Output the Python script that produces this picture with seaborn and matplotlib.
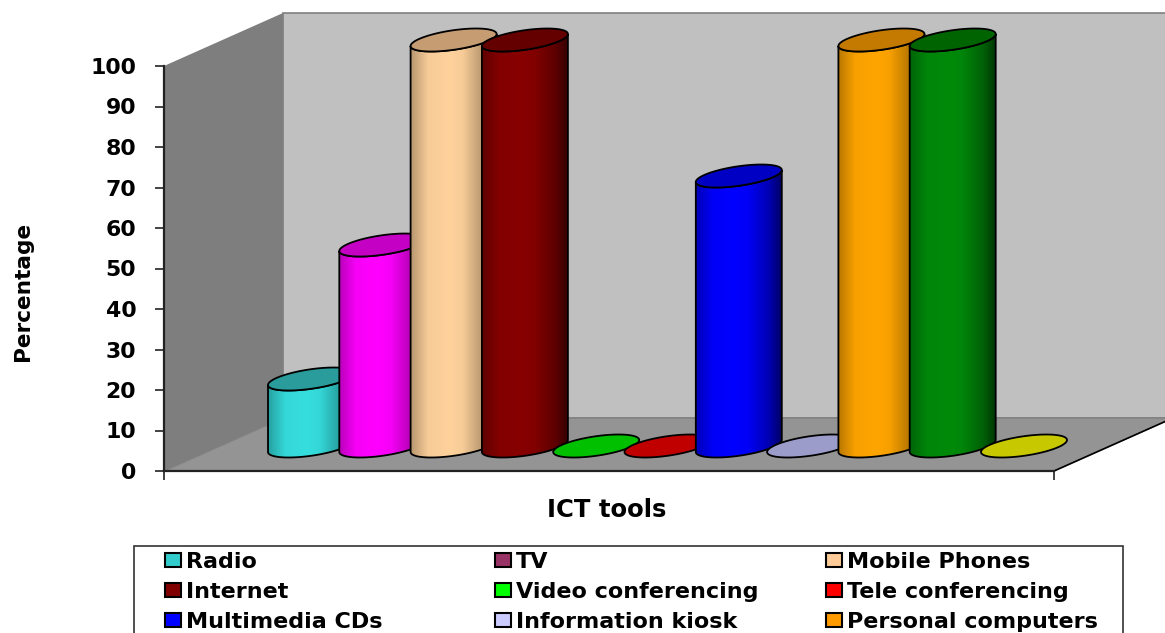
import numpy as np
import matplotlib
matplotlib.use("Agg")
import matplotlib.pyplot as plt
from matplotlib.patches import Patch, Polygon, Rectangle
from matplotlib.colors import to_rgb
import pandas as pd
import seaborn as sns

# Survey results: share of respondents using each tool
tools = ["Radio", "TV", "Mobile Phones", "Internet", "Video conferencing",
         "Tele conferencing", "Multimedia CDs", "Information kiosk",
         "Personal computers", "Other tools A", "Other tools B"]
percent = [16.5, 49.5, 100, 100, 0, 0, 66.5, 0, 100, 100, 0]
body_colors = ["#36DEDE", "#FF00FF", "#FFD29C", "#870000", "#00C400", "#C80000",
               "#0000FF", "#9C9CCB", "#FFA500", "#008A0A", "#C8C800"]
top_colors = ["#2A9C9C", "#C400C4", "#C69C72", "#650000", "#00C000", "#C00000",
              "#0000C4", "#9C9CCB", "#C47A00", "#006400", "#C8C800"]
legend_colors = ["#33CCCC", "#993366", "#FFCC99", "#800000", "#00FF00", "#FF0000",
                 "#0000FF", "#CCCCFF", "#FF9900"]
yticks = list(range(0, 101, 10))

W, H = 1165, 633
TEXT = dict(fontweight="bold", color="black")

sns.set_theme(style="white")
plt.rcParams["font.family"] = ["DejaVu Sans"]

fig = plt.figure(figsize=(W / 100, H / 100), dpi=100, facecolor="white")


def px_axes(left, top, right, bottom):
    return fig.add_axes([left / W, 1 - bottom / H, (right - left) / W, (bottom - top) / H])


# Front frame of the chart box, carrying the value axis
frame = px_axes(164, 66, 1054, 471)
frame.set_xlim(0, 1)
frame.set_ylim(0, 100)
frame.patch.set_visible(False)
depth_x, depth_y = 119 / 890, 53 / 405 * 100

left_wall = [(0, 0), (depth_x, depth_y), (depth_x, 100 + depth_y), (0, 100)]
back_wall = [(depth_x, depth_y), (1 + depth_x, depth_y), (1 + depth_x, 100 + depth_y), (depth_x, 100 + depth_y)]
floor = [(0, 0), (1, 0), (1 + depth_x, depth_y), (depth_x, depth_y)]
frame.add_patch(Polygon(left_wall, fc="#7E7E7E", ec="none", clip_on=False, zorder=1))
frame.add_patch(Polygon(back_wall, fc="#C0C0C0", ec="#808080", lw=1.2, clip_on=False, zorder=1))
frame.add_patch(Polygon(floor, fc="#949494", ec="#808080", lw=1, clip_on=False, zorder=1.5))
frame.plot([1, 1 + depth_x], [0, depth_y], color="black", lw=1.2, clip_on=False, zorder=2)

for side in ("top", "right"):
    frame.spines[side].set_visible(False)
for side in ("left", "bottom"):
    frame.spines[side].set_color("#222222")
    frame.spines[side].set_linewidth(1.6)
    frame.spines[side].set_zorder(3)
frame.set_yticks(yticks)
frame.set_xticks([0, 1], labels=["", ""])
frame.tick_params(axis="y", left=True, length=6.5, width=1.2, color="#222222", pad=13.5)
frame.tick_params(axis="x", bottom=True, length=6.5, width=1.2, color="#222222")
for label in frame.get_yticklabels():
    label.set_fontsize(15.8)
    label.set_fontweight("bold")
    label.set_color("black")
frame.set_ylabel("Percentage", fontsize=15.6, va="center", ha="center", **TEXT)
frame.yaxis.set_label_coords((23 - 164) / 890, (471 - 291) / 405)
frame.set_xlabel("ICT tools", fontsize=17.5, va="center", ha="center", **TEXT)
frame.xaxis.set_label_coords((607 - 164) / 890, -(510 - 471) / 405)

# Cylinders sit on the floor, in axes spanning the whole canvas
bars_ax = fig.add_axes([0, 0, 1, 1])
bars_ax.patch.set_visible(False)
data = pd.DataFrame({"tool": tools, "percent": percent})
sns.barplot(data=data, x="tool", y="percent", hue="tool", hue_order=tools,
            palette=body_colors, saturation=1, dodge=False, width=86 / 71.3,
            legend=False, ax=bars_ax)

spacing = 71.3
first_center, zero_y, unit = 311.0, 446.0, 4.06
x_limits = (-first_center / spacing, (W - first_center) / spacing)
y_limits = ((zero_y - H) / unit, zero_y / unit)
skew, minor = 6 / unit, 9.8 / unit
angles = np.linspace(0, 2 * np.pi, 200)


def ellipse(cx, half, level, t):
    return np.column_stack([cx + half * np.cos(t), level + skew * np.cos(t) + minor * np.sin(t)])


shade_pos = [0, 0.2, 0.45, 0.6, 0.85, 1]
shade_val = [0.72, 0.97, 1.0, 0.97, 0.7, 0.4]
shade = np.interp(np.linspace(0, 1, 256), shade_pos, shade_val)

for i, container in enumerate(bars_ax.containers):
    bar = container[0]
    half = bar.get_width() / 2
    cx = bar.get_x() + half
    level = bar.get_height()
    z = 10 + i
    bar.set_zorder(z)
    cap = Polygon(ellipse(cx, half, level, angles), closed=True, fc=top_colors[i],
                  ec="black", lw=1.3, zorder=z + 0.5)
    bars_ax.add_patch(cap)
    if level <= 0:
        bar.set_visible(False)
        continue
    lower = np.linspace(np.pi, 2 * np.pi, 100)
    base_edge = ellipse(cx, half, 0, lower)
    top_edge = ellipse(cx, half, level, lower)[::-1]
    outline = Polygon(np.vstack([base_edge, top_edge]), closed=True, fc="none",
                      ec="black", lw=1.3, zorder=z + 0.4)
    bars_ax.add_patch(outline)
    bar.set_clip_path(outline)
    rgb = np.array(to_rgb(body_colors[i]))
    strip = (shade[:, None] * rgb)[None, :, :]
    img = bars_ax.imshow(strip, extent=(cx - half, cx + half, -20, 120), aspect="auto",
                         interpolation="bilinear", zorder=z + 0.2)
    img.set_clip_path(outline)

bars_ax.set_xlim(*x_limits)
bars_ax.set_ylim(*y_limits)
bars_ax.axis("off")

# Legend box runs past the lower edge of the canvas
fig.add_artist(Rectangle((134 / W, 1 - 700 / H), (1123 - 134) / W, (700 - 546) / H,
                         transform=fig.transFigure, fc="white", ec="#333333", lw=1.2))
for col, x_px in enumerate([165, 495, 826]):
    idx = range(col, len(legend_colors), 3)
    handles = [Patch(fc=legend_colors[j], ec="black", lw=1.5) for j in idx]
    labels = [tools[j] for j in idx]
    leg = fig.legend(handles, labels, loc="upper left",
                     bbox_to_anchor=(x_px / W, 1 - 552 / H), frameon=False,
                     borderpad=0, borderaxespad=0,
                     handlelength=0.72, handleheight=0.62, handletextpad=0.24,
                     labelspacing=0.45, prop=dict(weight="bold", size=16))
    for t in leg.get_texts():
        t.set_color("black")

fig.savefig("out.png", dpi=100, facecolor="white")
